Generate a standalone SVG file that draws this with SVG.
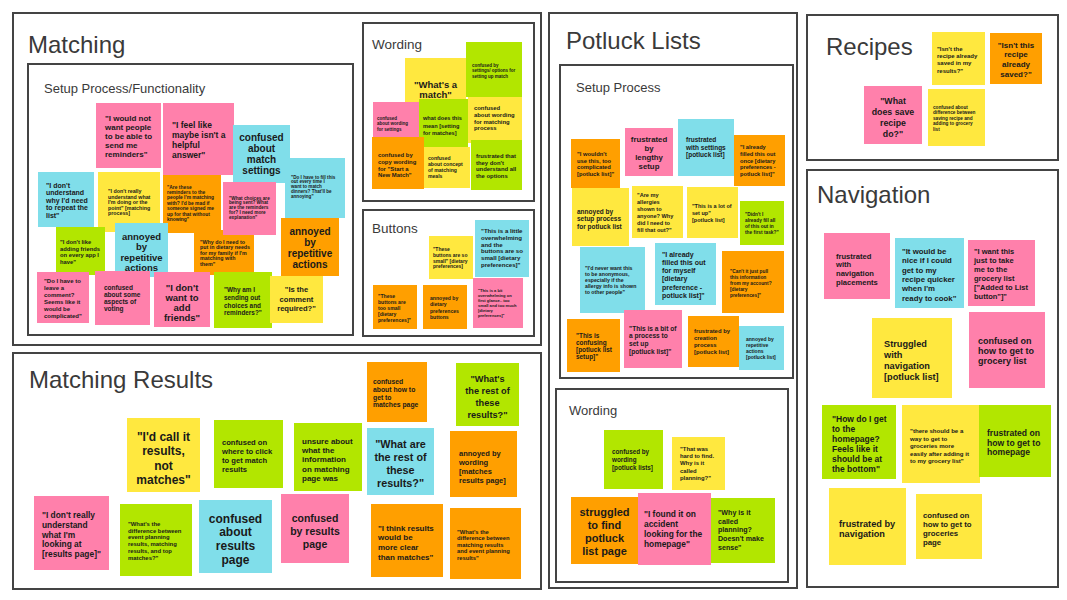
<svg xmlns="http://www.w3.org/2000/svg" width="1067" height="600" viewBox="0 0 1067 600">
<style>
.frame{fill:none;stroke:#444;stroke-width:2}
.h1{font-family:"Liberation Sans",Arial,sans-serif;font-size:24px;fill:#3a3a3a}
.h2{font-family:"Liberation Sans",Arial,sans-serif;font-size:13px;fill:#3a3a3a}
.t{font-family:"Liberation Sans",Arial,sans-serif;font-weight:bold;fill:#1a1a1a}
.c{text-anchor:middle}
.pk{fill:#ff80ab}
.yl{fill:#ffe83f}
.gr{fill:#b2e600}
.bl{fill:#80deea}
.or{fill:#ff9f00}
</style>
<rect width="1067" height="600" fill="#fff"/>

<g id="frames">
<rect class="frame" x="13" y="13" width="528" height="332"/>
<rect class="frame" x="28" y="64" width="325" height="271"/>
<rect class="frame" x="363" y="23" width="171" height="178"/>
<rect class="frame" x="363" y="210" width="171" height="126"/>
<rect class="frame" x="13" y="353" width="528" height="236"/>
<rect class="frame" x="549" y="13" width="248" height="575"/>
<rect class="frame" x="560" y="65" width="233" height="313"/>
<rect class="frame" x="556" y="389" width="232" height="193"/>
<rect class="frame" x="807" y="15" width="251" height="145"/>
<rect class="frame" x="807" y="170" width="251" height="417"/>
</g>

<g id="titles">
<text class="h1" x="28" y="53">Matching</text>
<text class="h2" x="44" y="93">Setup Process/Functionality</text>
<text class="h2" x="372" y="49" style="font-size:13.5px">Wording</text>
<text class="h2" x="372" y="233" style="font-size:13.5px">Buttons</text>
<text class="h1" x="29" y="388">Matching Results</text>
<text class="h1" x="566" y="49">Potluck Lists</text>
<text class="h2" x="576" y="92">Setup Process</text>
<text class="h2" x="569" y="415">Wording</text>
<text class="h1" x="826" y="55">Recipes</text>
<text class="h1" x="817" y="203">Navigation</text>
</g>

<!-- Matching / Setup Process -->
<g id="m1"><rect class="pk" x="96" y="103" width="65" height="65"/><text class="t" font-size="8" x="105" y="121"><tspan x="105">"I would not</tspan><tspan x="105" dy="9">want people</tspan><tspan x="105" dy="9">to be able to</tspan><tspan x="105" dy="9">send me</tspan><tspan x="105" dy="9">reminders"</tspan></text></g>
<g id="m2"><rect class="pk" x="163" y="103" width="71" height="72"/><text class="t" font-size="8.5" x="172" y="128"><tspan x="172">"I feel like</tspan><tspan x="172" dy="10">maybe isn't a</tspan><tspan x="172" dy="10">helpful</tspan><tspan x="172" dy="9.5">answer"</tspan></text></g>
<g id="m4"><rect class="bl" x="285" y="158" width="60" height="60"/><text class="t" font-size="4.6" x="291" y="178.5"><tspan x="291">"Do I have to fill this</tspan><tspan x="291" dy="4.8">out every time I</tspan><tspan x="291" dy="4.8">want to match</tspan><tspan x="291" dy="4.8">dinners? That'll be</tspan><tspan x="291" dy="4.8">annoying"</tspan></text></g>
<g id="m3"><rect class="bl" x="233" y="125" width="57" height="58"/><text class="t c" font-size="10" x="261.5" y="140.5"><tspan x="261.5">confused</tspan><tspan x="261.5" dy="11.3">about</tspan><tspan x="261.5" dy="11.3">match</tspan><tspan x="261.5" dy="11.3">settings</tspan></text></g>
<g id="m5"><rect class="bl" x="38" y="172" width="56" height="55"/><text class="t" font-size="7" x="46" y="187.5"><tspan x="46">"I don't</tspan><tspan x="46" dy="7.5">understand</tspan><tspan x="46" dy="7.5">why I'd need</tspan><tspan x="46" dy="7.5">to repeat the</tspan><tspan x="46" dy="7.5">list"</tspan></text></g>
<g id="m6"><rect class="yl" x="98" y="172" width="62" height="60"/><text class="t" font-size="5.3" x="108" y="193"><tspan x="108">"I don't really</tspan><tspan x="108" dy="5.6">understand what</tspan><tspan x="108" dy="5.6">I'm doing or the</tspan><tspan x="108" dy="5.6">point" [matching</tspan><tspan x="108" dy="5.6">process]</tspan></text></g>
<g id="m7"><rect class="or" x="163" y="175" width="58" height="58"/><text class="t" font-size="4.9" x="167" y="188.5"><tspan x="167">"Are these</tspan><tspan x="167" dy="5.4">reminders to the</tspan><tspan x="167" dy="5.4">people I'm matching</tspan><tspan x="167" dy="5.4">with? I'd be mad if</tspan><tspan x="167" dy="5.4">someone signed me</tspan><tspan x="167" dy="5.4">up for that without</tspan><tspan x="167" dy="5.4">knowing"</tspan></text></g>
<g id="m9"><rect class="or" x="194" y="230" width="60" height="45"/><text class="t" font-size="5.3" x="200" y="243.5"><tspan x="200">"Why do I need to</tspan><tspan x="200" dy="5.5">put in dietary needs</tspan><tspan x="200" dy="5.5">for my family if I'm</tspan><tspan x="200" dy="5.5">matching with</tspan><tspan x="200" dy="5.5">them"</tspan></text></g>
<g id="m8"><rect class="pk" x="223" y="182" width="53" height="53"/><text class="t" font-size="4.7" x="229" y="199.5"><tspan x="229">"What choices are</tspan><tspan x="229" dy="4.8">being sent? What</tspan><tspan x="229" dy="4.8">are the reminders</tspan><tspan x="229" dy="4.8">for? I need more</tspan><tspan x="229" dy="4.8">explanation"</tspan></text></g>
<g id="m10"><rect class="gr" x="56" y="227" width="49" height="48"/><text class="t" font-size="5.8" x="60" y="244"><tspan x="60">"I don't like</tspan><tspan x="60" dy="6.5">adding friends</tspan><tspan x="60" dy="6.5">on every app I</tspan><tspan x="60" dy="6.5">have"</tspan></text></g>
<g id="m11"><rect class="bl" x="115" y="223" width="53" height="54"/><text class="t c" font-size="9.5" x="141.5" y="239.5"><tspan x="141.5">annoyed</tspan><tspan x="141.5" dy="10.5">by</tspan><tspan x="141.5" dy="10.5">repetitive</tspan><tspan x="141.5" dy="10.5">actions</tspan></text></g>
<g id="m12"><rect class="or" x="281" y="218" width="58" height="58"/><text class="t c" font-size="10" x="310" y="234.5"><tspan x="310">annoyed</tspan><tspan x="310" dy="11">by</tspan><tspan x="310" dy="11">repetitive</tspan><tspan x="310" dy="11">actions</tspan></text></g>
<g id="m13"><rect class="pk" x="37" y="272" width="52" height="51"/><text class="t" font-size="6" x="44" y="283"><tspan x="44">"Do I have to</tspan><tspan x="44" dy="7">leave a</tspan><tspan x="44" dy="7">comment?</tspan><tspan x="44" dy="7">Seems like it</tspan><tspan x="44" dy="7">would be</tspan><tspan x="44" dy="7">complicated"</tspan></text></g>
<g id="m14"><rect class="pk" x="95" y="271" width="55" height="54"/><text class="t" font-size="6.5" x="104" y="290"><tspan x="104">confused</tspan><tspan x="104" dy="7">about some</tspan><tspan x="104" dy="7">aspects of</tspan><tspan x="104" dy="7">voting</tspan></text></g>
<g id="m15"><rect class="pk" x="154" y="272" width="56" height="55"/><text class="t c" font-size="9.5" x="182" y="290.5"><tspan x="182">"I don't</tspan><tspan x="182" dy="10">want to</tspan><tspan x="182" dy="10">add</tspan><tspan x="182" dy="10">friends"</tspan></text></g>
<g id="m16"><rect class="gr" x="214" y="272" width="58" height="56"/><text class="t" font-size="6.4" x="224" y="292"><tspan x="224">"Why am I</tspan><tspan x="224" dy="7.8">sending out</tspan><tspan x="224" dy="7.8">choices and</tspan><tspan x="224" dy="7.8">reminders?"</tspan></text></g>
<g id="m17"><rect class="yl" x="270" y="276" width="53" height="47"/><text class="t c" font-size="7.6" x="296.5" y="292"><tspan x="296.5">"Is the</tspan><tspan x="296.5" dy="9.5">comment</tspan><tspan x="296.5" dy="9.5">required?"</tspan></text></g>

<!-- Matching / Wording -->
<g id="w2"><rect class="yl" x="405" y="58" width="61" height="45"/><text class="t c" font-size="9.5" x="435.5" y="87.5"><tspan x="435.5">"What's a</tspan><tspan x="435.5" dy="10.5">match"</tspan></text></g>
<g id="w1"><rect class="gr" x="466" y="42" width="56" height="55"/><text class="t" font-size="4.5" x="472" y="66.5"><tspan x="472">confused by</tspan><tspan x="472" dy="5.5">settings/ options for</tspan><tspan x="472" dy="5.5">setting up match</tspan></text></g>
<g id="w3"><rect class="pk" x="373" y="102" width="46" height="36"/><text class="t" font-size="4.5" x="377" y="119.5"><tspan x="377">confused</tspan><tspan x="377" dy="5.5">about wording</tspan><tspan x="377" dy="5.5">for settings</tspan></text></g>
<g id="w4"><rect class="gr" x="419" y="99" width="49" height="50"/><text class="t" font-size="5.6" x="423" y="120"><tspan x="423">what does this</tspan><tspan x="423" dy="7.5">mean [setting</tspan><tspan x="423" dy="7.5">for matches]</tspan></text></g>
<g id="w5"><rect class="yl" x="468" y="97" width="54" height="46"/><text class="t" font-size="5.9" x="474" y="110"><tspan x="474">confused</tspan><tspan x="474" dy="6.8">about wording</tspan><tspan x="474" dy="6.8">for matching</tspan><tspan x="474" dy="6.8">process</tspan></text></g>
<g id="w6"><rect class="or" x="372" y="137" width="52" height="52"/><text class="t" font-size="5.9" x="378" y="157"><tspan x="378">confused by</tspan><tspan x="378" dy="6.8">copy wording</tspan><tspan x="378" dy="6.8">for "Start a</tspan><tspan x="378" dy="6.8">New Match"</tspan></text></g>
<g id="w7"><rect class="yl" x="424" y="147" width="46" height="41"/><text class="t" font-size="5.1" x="428" y="159.5"><tspan x="428">confused</tspan><tspan x="428" dy="6">about concept</tspan><tspan x="428" dy="6">of matching</tspan><tspan x="428" dy="6">meals</tspan></text></g>
<g id="w8"><rect class="gr" x="471" y="140" width="51" height="50"/><text class="t" font-size="5.9" x="476" y="158"><tspan x="476">frustrated that</tspan><tspan x="476" dy="6.6">they don't</tspan><tspan x="476" dy="6.6">understand all</tspan><tspan x="476" dy="6.6">the options</tspan></text></g>

<!-- Matching / Buttons -->
<g id="b1"><rect class="bl" x="475" y="220" width="54" height="57"/><text class="t" font-size="6.1" x="481" y="233"><tspan x="481">"This is a little</tspan><tspan x="481" dy="6.8">overwhelming</tspan><tspan x="481" dy="6.8">and the</tspan><tspan x="481" dy="6.8">buttons are so</tspan><tspan x="481" dy="6.8">small [dietary</tspan><tspan x="481" dy="6.8">preferences]"</tspan></text></g>
<g id="b2"><rect class="yl" x="429" y="236" width="44" height="43"/><text class="t" font-size="5" x="433" y="251"><tspan x="433">"These</tspan><tspan x="433" dy="5.8">buttons are so</tspan><tspan x="433" dy="5.8">small" [dietary</tspan><tspan x="433" dy="5.8">preferences]</tspan></text></g>
<g id="b3"><rect class="or" x="373" y="285" width="44" height="44"/><text class="t" font-size="5.1" x="378" y="297.5"><tspan x="378">"These</tspan><tspan x="378" dy="6">buttons are</tspan><tspan x="378" dy="6">too small</tspan><tspan x="378" dy="6">[dietary</tspan><tspan x="378" dy="6">preferences]"</tspan></text></g>
<g id="b4"><rect class="or" x="423" y="285" width="44" height="44"/><text class="t" font-size="5.1" x="430" y="299.5"><tspan x="430">annoyed by</tspan><tspan x="430" dy="6.5">dietary</tspan><tspan x="430" dy="6.5">preferences</tspan><tspan x="430" dy="6.5">buttons</tspan></text></g>
<g id="b5"><rect class="pk" x="473" y="278" width="50" height="50"/><text class="t" font-size="4.1" x="478" y="292"><tspan x="478">"This is a bit</tspan><tspan x="478" dy="5">overwhelming on</tspan><tspan x="478" dy="5">first glance.. too</tspan><tspan x="478" dy="5">small and too much</tspan><tspan x="478" dy="5">[dietary</tspan><tspan x="478" dy="5">preferences]"</tspan></text></g>

<!-- Matching Results -->
<g id="r1"><rect class="yl" x="127" y="418" width="73" height="74"/><text class="t c" font-size="12" x="163.5" y="441"><tspan x="163.5">"I'd call it</tspan><tspan x="163.5" dy="14.3">results,</tspan><tspan x="163.5" dy="14.3">not</tspan><tspan x="163.5" dy="14.3">matches"</tspan></text></g>
<g id="r2"><rect class="gr" x="214" y="420" width="69" height="68"/><text class="t" font-size="7.6" x="222" y="444.5"><tspan x="222">confused on</tspan><tspan x="222" dy="9.2">where to click</tspan><tspan x="222" dy="9.2">to get match</tspan><tspan x="222" dy="9.2">results</tspan></text></g>
<g id="r3"><rect class="pk" x="34" y="496" width="75" height="74"/><text class="t" font-size="8.4" x="42" y="518"><tspan x="42">"I don't really</tspan><tspan x="42" dy="9.8">understand</tspan><tspan x="42" dy="9.8">what I'm</tspan><tspan x="42" dy="9.8">looking at</tspan><tspan x="42" dy="9.8">[results page]"</tspan></text></g>
<g id="r4"><rect class="gr" x="120" y="504" width="72" height="72"/><text class="t" font-size="5.9" x="128" y="526"><tspan x="128">"What's the</tspan><tspan x="128" dy="6.7">difference between</tspan><tspan x="128" dy="6.7">event planning</tspan><tspan x="128" dy="6.7">results, matching</tspan><tspan x="128" dy="6.7">results, and top</tspan><tspan x="128" dy="6.7">matches?"</tspan></text></g>
<g id="r5"><rect class="bl" x="199" y="500" width="73" height="73"/><text class="t c" font-size="12" x="235.5" y="522.5"><tspan x="235.5">confused</tspan><tspan x="235.5" dy="13.7">about</tspan><tspan x="235.5" dy="13.7">results</tspan><tspan x="235.5" dy="13.7">page</tspan></text></g>
<g id="r6"><rect class="gr" x="294" y="423" width="68" height="68"/><text class="t" font-size="8" x="302" y="444"><tspan x="302">unsure about</tspan><tspan x="302" dy="9.2">what the</tspan><tspan x="302" dy="9.2">information</tspan><tspan x="302" dy="9.2">on matching</tspan><tspan x="302" dy="9.2">page was</tspan></text></g>
<g id="r7"><rect class="pk" x="281" y="494" width="68" height="69"/><text class="t c" font-size="10.5" x="315" y="521.5"><tspan x="315">confused</tspan><tspan x="315" dy="13.3">by results</tspan><tspan x="315" dy="13.3">page</tspan></text></g>
<g id="r8"><rect class="or" x="367" y="362" width="60" height="60"/><text class="t" font-size="6.8" x="373" y="384"><tspan x="373">confused</tspan><tspan x="373" dy="7.8">about how to</tspan><tspan x="373" dy="7.8">get to</tspan><tspan x="373" dy="7.8">matches page</tspan></text></g>
<g id="r9"><rect class="bl" x="367" y="428" width="67" height="67"/><text class="t c" font-size="10.8" x="400.5" y="448"><tspan x="400.5">"What are</tspan><tspan x="400.5" dy="13">the rest of</tspan><tspan x="400.5" dy="13">these</tspan><tspan x="400.5" dy="13">results?"</tspan></text></g>
<g id="r10"><rect class="gr" x="456" y="363" width="63" height="63"/><text class="t c" font-size="9.2" x="487.5" y="381.5"><tspan x="487.5">"What's</tspan><tspan x="487.5" dy="12">the rest of</tspan><tspan x="487.5" dy="12">these</tspan><tspan x="487.5" dy="12">results?"</tspan></text></g>
<g id="r11"><rect class="or" x="450" y="431" width="67" height="66"/><text class="t" font-size="7.5" x="459" y="455.5"><tspan x="459">annoyed by</tspan><tspan x="459" dy="9">wording</tspan><tspan x="459" dy="9">[matches</tspan><tspan x="459" dy="9">results page]</tspan></text></g>
<g id="r12"><rect class="or" x="371" y="504" width="72" height="73"/><text class="t" font-size="8" x="378" y="530.5"><tspan x="378">"I think results</tspan><tspan x="378" dy="9.7">would be</tspan><tspan x="378" dy="9.7">more clear</tspan><tspan x="378" dy="9.7">than matches"</tspan></text></g>
<g id="r13"><rect class="or" x="450" y="508" width="71" height="71"/><text class="t" font-size="5.8" x="457" y="533.5"><tspan x="457">"What's the</tspan><tspan x="457" dy="6.5">difference between</tspan><tspan x="457" dy="6.5">matching results</tspan><tspan x="457" dy="6.5">and event planning</tspan><tspan x="457" dy="6.5">results"</tspan></text></g>

<!-- Potluck Lists / Setup Process -->
<g id="p1"><rect class="or" x="571" y="139" width="49" height="49"/><text class="t" font-size="5.8" x="577" y="156"><tspan x="577">"I wouldn't</tspan><tspan x="577" dy="6.5">use this, too</tspan><tspan x="577" dy="6.5">complicated</tspan><tspan x="577" dy="6.5">[potluck list]"</tspan></text></g>
<g id="p2"><rect class="pk" x="625" y="128" width="48" height="48"/><text class="t c" font-size="7.8" x="649" y="142"><tspan x="649">frustrated</tspan><tspan x="649" dy="9">by</tspan><tspan x="649" dy="9">lengthy</tspan><tspan x="649" dy="9">setup</tspan></text></g>
<g id="p3"><rect class="bl" x="678" y="119" width="56" height="57"/><text class="t" font-size="6.5" x="686" y="142"><tspan x="686">frustrated</tspan><tspan x="686" dy="7.5">with settings</tspan><tspan x="686" dy="7.5">[potluck list]</tspan></text></g>
<g id="p4"><rect class="or" x="734" y="135" width="51" height="51"/><text class="t" font-size="5.7" x="740" y="149"><tspan x="740">"I already</tspan><tspan x="740" dy="6.8">filled this out</tspan><tspan x="740" dy="6.8">once [dietary</tspan><tspan x="740" dy="6.8">preferences -</tspan><tspan x="740" dy="6.8">potluck list]"</tspan></text></g>
<g id="p5"><rect class="yl" x="572" y="188" width="57" height="58"/><text class="t" font-size="6.5" x="577" y="213.5"><tspan x="577">annoyed by</tspan><tspan x="577" dy="7.6">setup process</tspan><tspan x="577" dy="7.6">for potluck list</tspan></text></g>
<g id="p6"><rect class="yl" x="632" y="186" width="51" height="52"/><text class="t" font-size="5.6" x="637" y="197"><tspan x="637">"Are my</tspan><tspan x="637" dy="7">allergies</tspan><tspan x="637" dy="7">shown to</tspan><tspan x="637" dy="7">anyone? Why</tspan><tspan x="637" dy="7">did I need to</tspan><tspan x="637" dy="7">fill that out?"</tspan></text></g>
<g id="p7"><rect class="yl" x="687" y="187" width="51" height="51"/><text class="t" font-size="5.5" x="692" y="208"><tspan x="692">"This is a lot of</tspan><tspan x="692" dy="7">set up"</tspan><tspan x="692" dy="7">[potluck list]</tspan></text></g>
<g id="p8"><rect class="gr" x="740" y="201" width="44" height="44"/><text class="t" font-size="4.8" x="745" y="215.5"><tspan x="745">"Didn't I</tspan><tspan x="745" dy="6">already fill all</tspan><tspan x="745" dy="6">of this out in</tspan><tspan x="745" dy="6">the first task?"</tspan></text></g>
<g id="p9"><rect class="bl" x="580" y="247" width="65" height="66"/><text class="t" font-size="5.2" x="585" y="269.5"><tspan x="585">"I'd never want this</tspan><tspan x="585" dy="6.2">to be anonymous,</tspan><tspan x="585" dy="6.2">especially if the</tspan><tspan x="585" dy="6.2">allergy info is shown</tspan><tspan x="585" dy="6.2">to other people"</tspan></text></g>
<g id="p10"><rect class="bl" x="655" y="243" width="61" height="62"/><text class="t" font-size="7" x="662" y="256.5"><tspan x="662">"I already</tspan><tspan x="662" dy="8.3">filled this out</tspan><tspan x="662" dy="8.3">for myself</tspan><tspan x="662" dy="8.3">[dietary</tspan><tspan x="662" dy="8.3">preference -</tspan><tspan x="662" dy="8.3">potluck list]"</tspan></text></g>
<g id="p11"><rect class="or" x="722" y="251" width="62" height="62"/><text class="t" font-size="4.8" x="730" y="272.5"><tspan x="730">"Can't it just pull</tspan><tspan x="730" dy="6">this information</tspan><tspan x="730" dy="6">from my account?</tspan><tspan x="730" dy="6">[dietary</tspan><tspan x="730" dy="6">preferences]"</tspan></text></g>
<g id="p13"><rect class="pk" x="624" y="310" width="58" height="58"/><text class="t" font-size="6.6" x="629" y="330.5"><tspan x="629">"This is a bit of</tspan><tspan x="629" dy="7.8">a process to</tspan><tspan x="629" dy="7.8">set up</tspan><tspan x="629" dy="7.8">[potluck list]"</tspan></text></g>
<g id="p12"><rect class="or" x="567" y="319" width="53" height="53"/><text class="t" font-size="6.4" x="576" y="338"><tspan x="576">"This is</tspan><tspan x="576" dy="7">confusing</tspan><tspan x="576" dy="7">[potluck list</tspan><tspan x="576" dy="7">setup]"</tspan></text></g>
<g id="p14"><rect class="or" x="688" y="316" width="51" height="51"/><text class="t" font-size="5.9" x="694" y="333"><tspan x="694">frustrated by</tspan><tspan x="694" dy="7">creation</tspan><tspan x="694" dy="7">process</tspan><tspan x="694" dy="7">[potluck list]</tspan></text></g>
<g id="p15"><rect class="bl" x="739" y="326" width="45" height="44"/><text class="t" font-size="5" x="746" y="340.5"><tspan x="746">annoyed by</tspan><tspan x="746" dy="6.3">repetitive</tspan><tspan x="746" dy="6.3">actions</tspan><tspan x="746" dy="6.3">[potluck list]</tspan></text></g>

<!-- Potluck Lists / Wording -->
<g id="pw1"><rect class="gr" x="604" y="430" width="59" height="59"/><text class="t" font-size="6.3" x="612" y="454"><tspan x="612">confused by</tspan><tspan x="612" dy="8">wording</tspan><tspan x="612" dy="8">[potluck lists]</tspan></text></g>
<g id="pw2"><rect class="yl" x="672" y="437" width="53" height="53"/><text class="t" font-size="5.9" x="680" y="451"><tspan x="680">"That was</tspan><tspan x="680" dy="7.2">hard to find.</tspan><tspan x="680" dy="7.2">Why is it</tspan><tspan x="680" dy="7.2">called</tspan><tspan x="680" dy="7.2">planning?"</tspan></text></g>
<g id="pw3"><rect class="or" x="571" y="497" width="67" height="67"/><text class="t c" font-size="11" x="604.5" y="516"><tspan x="604.5">struggled</tspan><tspan x="604.5" dy="13">to find</tspan><tspan x="604.5" dy="13">potluck</tspan><tspan x="604.5" dy="13">list page</tspan></text></g>
<g id="pw4"><rect class="pk" x="638" y="493" width="73" height="72"/><text class="t" font-size="8.4" x="644" y="517"><tspan x="644">"I found it on</tspan><tspan x="644" dy="10">accident</tspan><tspan x="644" dy="10">looking for the</tspan><tspan x="644" dy="10">homepage"</tspan></text></g>
<g id="pw5"><rect class="gr" x="711" y="498" width="64" height="65"/><text class="t" font-size="7.1" x="718" y="515"><tspan x="718">"Why is it</tspan><tspan x="718" dy="8.7">called</tspan><tspan x="718" dy="8.7">planning?</tspan><tspan x="718" dy="8.7">Doesn't make</tspan><tspan x="718" dy="8.7">sense"</tspan></text></g>

<!-- Recipes -->
<g id="rc1"><rect class="yl" x="932" y="32" width="53" height="53"/><text class="t" font-size="6" x="937" y="51"><tspan x="937">"Isn't the</tspan><tspan x="937" dy="7.2">recipe already</tspan><tspan x="937" dy="7.2">saved in my</tspan><tspan x="937" dy="7.2">results?"</tspan></text></g>
<g id="rc2"><rect class="or" x="990" y="33" width="52" height="51"/><text class="t c" font-size="8" x="1016" y="47.5"><tspan x="1016">"Isn't this</tspan><tspan x="1016" dy="9.7">recipe</tspan><tspan x="1016" dy="9.7">already</tspan><tspan x="1016" dy="9.7">saved?"</tspan></text></g>
<g id="rc3"><rect class="pk" x="864" y="86" width="58" height="58"/><text class="t c" font-size="8.8" x="893" y="103.5"><tspan x="893">"What</tspan><tspan x="893" dy="11">does save</tspan><tspan x="893" dy="11">recipe</tspan><tspan x="893" dy="11">do?"</tspan></text></g>
<g id="rc4"><rect class="yl" x="928" y="89" width="57" height="57"/><text class="t" font-size="4.7" x="933" y="108.5"><tspan x="933">confused about</tspan><tspan x="933" dy="5.6">difference between</tspan><tspan x="933" dy="5.6">saving recipe and</tspan><tspan x="933" dy="5.6">adding to grocery</tspan><tspan x="933" dy="5.6">list</tspan></text></g>

<!-- Navigation -->
<g id="n1"><rect class="pk" x="824" y="233" width="66" height="66"/><text class="t" font-size="7.6" x="836" y="258.5"><tspan x="836">frustrated</tspan><tspan x="836" dy="8.7">with</tspan><tspan x="836" dy="8.7">navigation</tspan><tspan x="836" dy="8.7">placements</tspan></text></g>
<g id="n2"><rect class="bl" x="895" y="238" width="69" height="70"/><text class="t" font-size="7.8" x="902" y="254"><tspan x="902">"It would be</tspan><tspan x="902" dy="9.3">nice if I could</tspan><tspan x="902" dy="9.3">get to my</tspan><tspan x="902" dy="9.3">recipe quicker</tspan><tspan x="902" dy="9.3">when I'm</tspan><tspan x="902" dy="9.3">ready to cook"</tspan></text></g>
<g id="n3"><rect class="pk" x="968" y="240" width="67" height="66"/><text class="t" font-size="7.5" x="974" y="253.5"><tspan x="974">"I want this</tspan><tspan x="974" dy="9">just to take</tspan><tspan x="974" dy="9">me to the</tspan><tspan x="974" dy="9">grocery list</tspan><tspan x="974" dy="9">["Added to List</tspan><tspan x="974" dy="9">button"]"</tspan></text></g>
<g id="n4"><rect class="yl" x="872" y="318" width="80" height="80"/><text class="t" font-size="9.2" x="884" y="346.5"><tspan x="884">Struggled</tspan><tspan x="884" dy="11">with</tspan><tspan x="884" dy="11">navigation</tspan><tspan x="884" dy="11">[potluck list]</tspan></text></g>
<g id="n5"><rect class="pk" x="969" y="312" width="76" height="76"/><text class="t" font-size="9" x="978" y="344"><tspan x="978">confused on</tspan><tspan x="978" dy="10">how to get to</tspan><tspan x="978" dy="10">grocery list</tspan></text></g>
<g id="n6"><rect class="gr" x="822" y="405" width="74" height="74"/><text class="t" font-size="8.5" x="832" y="422"><tspan x="832">"How do I get</tspan><tspan x="832" dy="10">to the</tspan><tspan x="832" dy="10">homepage?</tspan><tspan x="832" dy="10">Feels like it</tspan><tspan x="832" dy="10">should be at</tspan><tspan x="832" dy="10">the bottom"</tspan></text></g>
<g id="n7"><rect class="yl" x="902" y="405" width="78" height="78"/><text class="t" font-size="6.1" x="910" y="433"><tspan x="910">"there should be a</tspan><tspan x="910" dy="7.5">way to get to</tspan><tspan x="910" dy="7.5">groceries more</tspan><tspan x="910" dy="7.5">easily after adding it</tspan><tspan x="910" dy="7.5">to my grocery list"</tspan></text></g>
<g id="n8"><rect class="gr" x="979" y="405" width="72" height="72"/><text class="t" font-size="8.6" x="987" y="436"><tspan x="987">frustrated on</tspan><tspan x="987" dy="9.7">how to get to</tspan><tspan x="987" dy="9.7">homepage</tspan></text></g>
<g id="n9"><rect class="yl" x="829" y="488" width="77" height="77"/><text class="t" font-size="9.2" x="839" y="526.5"><tspan x="839">frustrated by</tspan><tspan x="839" dy="10.5">navigation</tspan></text></g>
<g id="n10"><rect class="yl" x="916" y="494" width="66" height="65"/><text class="t" font-size="7.8" x="923" y="517.5"><tspan x="923">confused on</tspan><tspan x="923" dy="9">how to get to</tspan><tspan x="923" dy="9">groceries</tspan><tspan x="923" dy="9">page</tspan></text></g>
</svg>
